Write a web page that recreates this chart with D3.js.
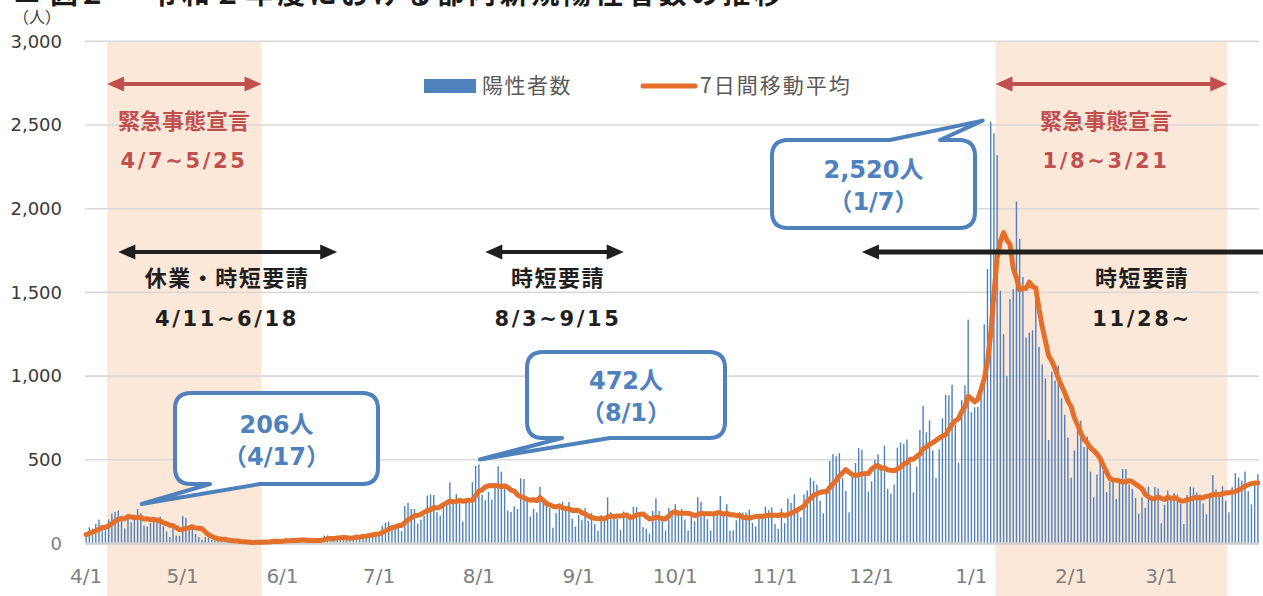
<!DOCTYPE html>
<html><head><meta charset="utf-8">
<script src="https://cdn.jsdelivr.net/npm/d3@7"></script>
<style>body{margin:0;background:#fff;overflow:hidden} svg{display:block}</style>
</head><body><svg id="c" width="1263" height="596"></svg>
<script>
// ---------- DATA ----------
const startDate = "2020-04-01";
const endDate = "2021-04-01"; // exclusive
// daily new positive cases (Tokyo), FY2020
const prevDays = [47,40,63,68,13,78]; // 3/26-3/31 2020, needed for the 7-day average
const casesApr = [66,97,89,116,143,83,79,144,178,189,197,166,91,161,127,149,206,181,107,102,123,132,134,161,103,72,39,112,47,46];
const casesMay = [165,154,91,87,58,38,23,39,36,22,15,28,10,30,9,14,5,10,5,5,11,3,2,14,8,10,11,15,22,14,5];
const casesJun = [13,34,12,28,20,26,14,13,12,18,22,25,24,47,48,27,16,41,35,39,35,29,31,55,48,54,57,60,58,54];
const casesJul = [67,107,124,131,111,102,106,75,224,243,206,206,119,143,165,286,293,290,188,168,237,238,366,260,295,239,131,266,250,367,463];
const casesAug = [472,292,258,309,263,360,462,429,331,197,188,222,206,389,385,260,161,207,186,339,258,256,212,95,182,236,250,226,248,148,100];
const casesSep = [170,141,211,136,181,116,77,170,149,276,187,146,146,80,191,163,172,220,218,173,98,88,59,195,270,194,144,78,212,194];
const casesOct = [235,196,207,143,78,176,133,276,249,190,146,78,166,177,284,184,235,77,78,139,186,185,186,203,124,102,158,171,221,199,215];
const casesNov = [116,87,209,122,269,242,294,189,157,293,317,393,374,352,255,180,298,493,534,522,539,391,314,186,401,481,570,561,418,311];
const casesDec = [372,500,533,449,584,327,299,352,572,602,595,621,480,305,460,678,822,664,736,556,392,563,748,888,884,949,708,481,856,944,1337];
const casesJan = [783,814,816,884,1310,1640,2520,2450,2320,1510,1250,1000,1460,1520,2044,1820,1592,1230,1260,1274,1471,1175,1070,986,618,1026,973,1064,868,769,633];
const casesFeb = [393,556,676,734,577,639,429,276,412,491,434,307,369,371,266,378,445,445,353,327,272,178,275,213,340,270,337,329];
const casesMar = [121,232,316,279,301,293,237,116,290,340,335,304,293,239,175,300,409,323,303,342,256,187,337,420,394,376,430,313,234,364,414];

const monthTicks = ["2020-04-01","2020-05-01","2020-06-01","2020-07-01","2020-08-01","2020-09-01","2020-10-01","2020-11-01","2020-12-01","2021-01-01","2021-02-01","2021-03-01"];
const yTicks = [0,500,1000,1500,2000,2500,3000];
const seriesNames = ["陽性者数","7日間移動平均"];
const emergency = [
  {from:"2020-04-07", to:"2020-05-25", title:"緊急事態宣言", period:"4/7~5/25"},
  {from:"2021-01-08", to:"2021-03-21", title:"緊急事態宣言", period:"1/8~3/21"}
];
const requests = [
  {from:"2020-04-11", to:"2020-06-18", title:"休業・時短要請", period:"4/11~6/18"},
  {from:"2020-08-03", to:"2020-09-15", title:"時短要請", period:"8/3~9/15"},
  {from:"2020-11-28", to:null, title:"時短要請", period:"11/28~"}
];
const callouts = [
  {date:"2020-04-17", value:206, text:"206人", sub:"（4/17）"},
  {date:"2020-08-01", value:472, text:"472人", sub:"（8/1）"},
  {date:"2021-01-07", value:2520, text:"2,520人", sub:"（1/7）"}
];

// ---------- BUILD ----------
const parse = d3.utcParse("%Y-%m-%d");
const fmtKey = d3.utcFormat("%Y-%m-%d");
const days = d3.utcDay.range(parse(startDate), parse(endDate)).map(fmtKey);
const cases = [].concat(casesApr,casesMay,casesJun,casesJul,casesAug,casesSep,casesOct,casesNov,casesDec,casesJan,casesFeb,casesMar);
const data = days.map((d,i)=>({date:d, value:cases[i]}));
const ext = prevDays.concat(cases);
const avg = data.map((d,i)=>({date:d.date, value:d3.mean(ext.slice(i, i+7))}));

const svg = d3.select("#c");
const W = 1263, H = 596;
const x = d3.scaleBand().domain(days).range([84.5, 1259.5]).padding(0);
const y = d3.scaleLinear().domain([0,3000]).range([543.5, 41.3]);
const step = x.step();
const cx = d => x(d) + step/2;

const CJK = "'Noto Sans CJK JP','Noto Sans CJK SC',sans-serif";
const NUM = "'DejaVu Sans','Noto Sans CJK JP',sans-serif";
const BLUE = "#4f81bd", RED = "#c0504d", ORANGE = "#e36f2a", DARK = "#1f1f1f";

// title (cut off at top)
const tg = svg.append("g").attr("font-family", CJK).attr("font-weight", "bold").attr("font-size", 28).attr("fill", "#1a1a1a");
tg.append("text").attr("x", 13).attr("y", 2).text("■");
tg.append("text").attr("x", 50).attr("y", 4).text("図２");
tg.append("text").attr("x", 150).attr("y", 4).attr("textLength", 632).attr("lengthAdjust","spacing").text("令和２年度における都内新規陽性者数の推移");

// emergency bands
svg.append("g").selectAll("rect").data(emergency).join("rect")
  .attr("x", d => x(d.from) + step)
  .attr("width", d => (x(d.to) + step) - (x(d.from) + step))
  .attr("y", y(3000)).attr("height", H - y(3000))
  .attr("fill", "#fce8d9");

// gridlines
svg.append("g").selectAll("line").data(yTicks.filter(v=>v>0)).join("line")
  .attr("x1", 85).attr("x2", 1259).attr("y1", d=>y(d)).attr("y2", d=>y(d))
  .attr("stroke", "#d9d9d9").attr("stroke-width", 1.6);

// y axis
const ya = svg.append("g").attr("transform", "translate(85,0)")
  .call(d3.axisLeft(y).tickValues(yTicks).tickFormat(d3.format(",")).tickSize(0).tickPadding(23));
ya.select(".domain").remove();
ya.selectAll("text").attr("font-family", NUM).attr("font-size", 18)
  .attr("fill", d => d === 0 ? "#7f7f7f" : "#3a3a3a");
svg.append("text").attr("x", 13).attr("y", 23).attr("font-family", CJK).attr("font-size", 16).attr("fill", "#3a3a3a").text("（人）");

// bars
const bw = 1.4;
svg.append("g").selectAll("rect").data(data).join("rect")
  .attr("x", d => cx(d.date) - bw/2).attr("width", bw)
  .attr("y", d => y(d.value)).attr("height", d => y(0) - y(d.value))
  .attr("fill", BLUE);

// baseline
svg.append("line").attr("x1", 85).attr("x2", 1259).attr("y1", y(0)).attr("y2", y(0))
  .attr("stroke", "#d0d0d0").attr("stroke-width", 2.4);

// x axis
const xa = svg.append("g").attr("transform", `translate(0,${y(0)})`)
  .call(d3.axisBottom(x).tickValues(monthTicks).tickFormat(d => { const t = parse(d); return (t.getUTCMonth()+1) + "/1"; }).tickSize(0).tickPadding(25));
xa.select(".domain").remove();
xa.selectAll("text").attr("font-family", NUM).attr("font-size", 20).attr("fill", "#7f7f7f");

// moving average line
svg.append("path").datum(avg)
  .attr("d", d3.line().x(d => cx(d.date)).y(d => y(d.value)))
  .attr("fill", "none").attr("stroke", ORANGE).attr("stroke-width", 5).attr("stroke-linejoin", "round").attr("stroke-linecap","round");

// legend
const lg = svg.append("g");
lg.append("rect").attr("x", 424).attr("y", 79).attr("width", 52).attr("height", 14).attr("fill", BLUE);
lg.append("text").attr("x", 482).attr("y", 93).attr("font-family", CJK).attr("font-size", 21).attr("letter-spacing", 1.5).attr("fill", "#595959").text(seriesNames[0]);
lg.append("line").attr("x1", 643).attr("x2", 695).attr("y1", 86).attr("y2", 86).attr("stroke", ORANGE).attr("stroke-width", 5).attr("stroke-linecap", "round");
lg.append("text").attr("x", 700).attr("y", 93).attr("font-family", CJK).attr("font-size", 21).attr("letter-spacing", 2).attr("fill", "#595959").text(seriesNames[1]);

// arrows
function arrow(g, x1, x2, yy, color, sw, hl, hw, leftHead, rightHead){
  const a = leftHead ? x1 + hl - 1 : x1, b = rightHead ? x2 - hl + 1 : x2;
  g.append("line").attr("x1", a).attr("x2", b).attr("y1", yy).attr("y2", yy).attr("stroke", color).attr("stroke-width", sw);
  if (leftHead) g.append("path").attr("d", `M${x1},${yy}L${x1+hl},${yy-hw/2}L${x1+hl},${yy+hw/2}Z`).attr("fill", color);
  if (rightHead) g.append("path").attr("d", `M${x2},${yy}L${x2-hl},${yy-hw/2}L${x2-hl},${yy+hw/2}Z`).attr("fill", color);
}
const ag = svg.append("g");
const redCenters = [184, 1106];
emergency.forEach((e,i) => {
  const x1 = x(e.from) + step, x2 = x(e.to) + step;
  arrow(ag, x1, x2, 84, RED, 4, 17, 15, true, true);
  ag.append("text").attr("x", redCenters[i]).attr("y", 129).attr("text-anchor","middle")
    .attr("font-family", CJK).attr("font-weight","bold").attr("font-size", 22).attr("fill", RED).text(e.title);
  ag.append("text").attr("x", redCenters[i]).attr("y", 168).attr("text-anchor","middle")
    .attr("font-family", NUM).attr("font-weight","bold").attr("font-size", 21).attr("letter-spacing", 2.6).attr("fill", RED).text(e.period);
});
const blackCenters = [227, 558, 1142];
requests.forEach((r,i) => {
  const x1 = cx(r.from), x2 = r.to ? cx(r.to) : W + 10;
  arrow(ag, x1, x2, 252, DARK, r.to ? 4 : 5, 17, 15, true, !!r.to);
  ag.append("text").attr("x", blackCenters[i]).attr("y", 286).attr("text-anchor","middle")
    .attr("font-family", CJK).attr("font-weight","bold").attr("font-size", 22).attr("letter-spacing", 1.5).attr("fill", DARK).text(r.title);
  ag.append("text").attr("x", blackCenters[i]).attr("y", 326).attr("text-anchor","middle")
    .attr("font-family", NUM).attr("font-weight","bold").attr("font-size", 21).attr("letter-spacing", 2.6).attr("fill", DARK).text(r.period);
});

// callouts
function calloutPath(x0,y0,x1,y1,r,side,a,b,tx,ty){
  let p = `M${x0+r},${y0}`;
  if (side === "top") p += `L${a},${y0}L${tx},${ty}L${b},${y0}`;
  p += `L${x1-r},${y0}Q${x1},${y0} ${x1},${y0+r}L${x1},${y1-r}Q${x1},${y1} ${x1-r},${y1}`;
  if (side === "bottom") p += `L${b},${y1}L${tx},${ty}L${a},${y1}`;
  p += `L${x0+r},${y1}Q${x0},${y1} ${x0},${y1-r}L${x0},${y0+r}Q${x0},${y0} ${x0+r},${y0}Z`;
  return p;
}
const boxes = [
  {x0:175, y0:393, x1:378, y1:484, side:"bottom", a:210, b:260, dx:4, dy:-5},
  {x0:527, y0:352, x1:725, y1:438, side:"bottom", a:562, b:610, dx:1, dy:-5},
  {x0:772, y0:140, x1:975, y1:228, side:"top", a:890, b:940, dx:-8, dy:-1}
];
const cg = svg.append("g");
callouts.forEach((c,i) => {
  const bx = boxes[i];
  const tx = cx(c.date) + bx.dx, ty = y(c.value) + bx.dy;
  cg.append("path").attr("d", calloutPath(bx.x0,bx.y0,bx.x1,bx.y1,16,bx.side,bx.a,bx.b,tx,ty))
    .attr("fill", "#fff").attr("stroke", BLUE).attr("stroke-width", 4).attr("stroke-linejoin","round");
  const mx = (bx.x0 + bx.x1)/2, my = (bx.y0 + bx.y1)/2;
  cg.append("text").attr("x", mx).attr("y", my - 6).attr("text-anchor","middle")
    .attr("font-family", NUM).attr("font-weight","bold").attr("font-size", 24).attr("fill", BLUE).text(c.text);
  cg.append("text").attr("x", mx).attr("y", my + 26).attr("text-anchor","middle")
    .attr("font-family", NUM).attr("font-weight","bold").attr("font-size", 24).attr("fill", BLUE).text(c.sub);
});
</script></body></html>
